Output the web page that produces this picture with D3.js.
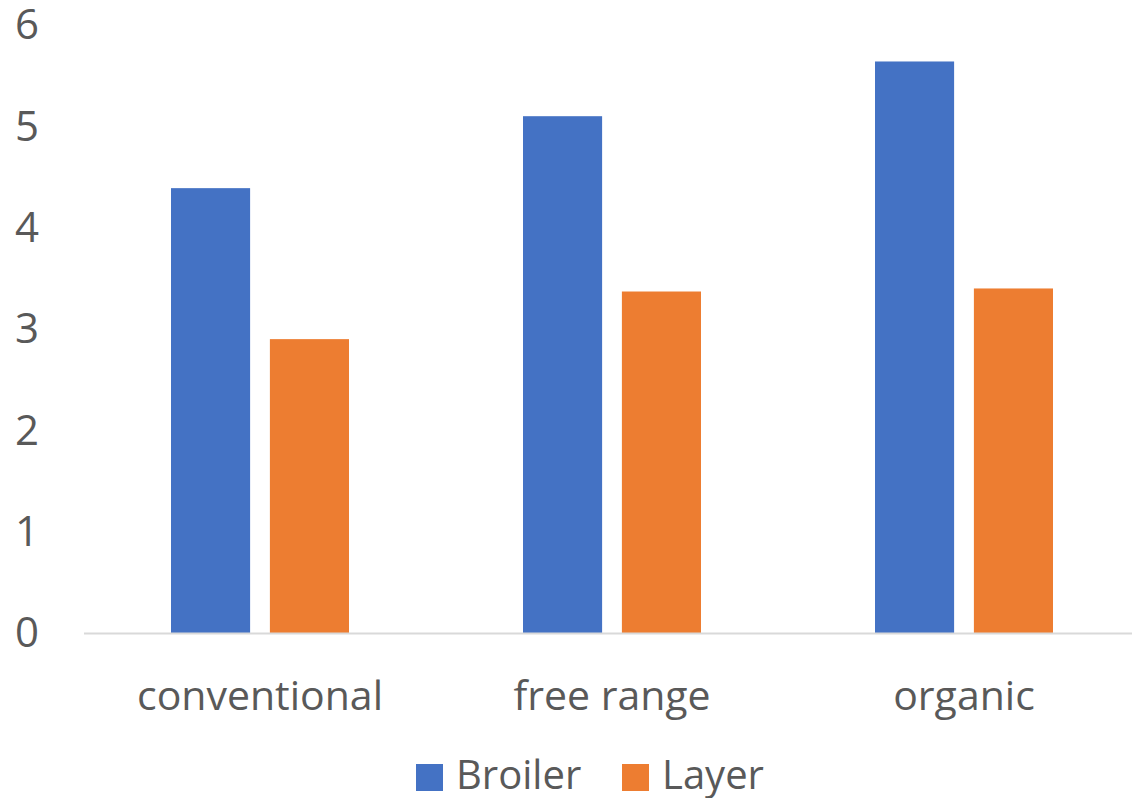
<!DOCTYPE html>
<html>
<head>
<meta charset="utf-8">
<script src="https://cdn.jsdelivr.net/npm/d3@7"></script>
<style>
  body { margin: 0; background: #fff; }
  text { font-family: "Open Sans", "Noto Sans", sans-serif; fill: #595959; }
</style>
</head>
<body>
<script>
// chart data
const categories = ["conventional", "free range", "organic"];
const seriesNames = ["Broiler", "Layer"];
const broiler = [4.39, 5.10, 5.64];
const layer = [2.90, 3.37, 3.40];
const yTicks = [0, 1, 2, 3, 4, 5, 6];
const colors = ["#4472c4", "#ed7d31"];

let svg = null;
let x, xInner, y = null;

const W = 1132, H = 798;
const plot = {left: 84, right: 1140, top: 25, bottom: 633};

appendSvg("body");
setupScales();
appendYAxis();
appendXAxis();
appendBars();
appendLegend();

function appendSvg(el) {
  svg = d3.select(el).append("svg")
    .attr("width", W)
    .attr("height", H);
}

function setupScales() {
  x = d3.scaleBand()
    .domain(categories)
    .range([plot.left, plot.right])
    .paddingInner(0)
    .paddingOuter(0);
  // two bars per group, gap between them
  xInner = d3.scaleBand()
    .domain(seriesNames)
    .range([87, x.bandwidth() - 87])
    .paddingInner(0.2);
  y = d3.scaleLinear()
    .domain([0, 6])
    .range([plot.bottom, plot.top]);
}

function appendYAxis() {
  const ax = svg.append("g")
    .attr("transform", "translate(39,0)")
    .call(d3.axisLeft(y).tickValues(yTicks).tickSize(0).tickPadding(0).tickFormat(d3.format("d")));
  ax.select(".domain").remove();
  ax.selectAll("text")
    .attr("font-size", 42)
    .attr("dy", "0.33em")
    .style("font-family", "'Open Sans', sans-serif")
    .attr("fill", "#595959");
}

function appendXAxis() {
  const ax = svg.append("g")
    .attr("transform", `translate(0, ${plot.bottom})`)
    .call(d3.axisBottom(x).tickSize(0).tickPadding(0));
  ax.select(".domain").remove();
  ax.selectAll("text")
    .attr("font-size", 41)
    .attr("y", 77)
    .attr("dy", 0)
    .style("font-family", "'Open Sans', sans-serif")
    .attr("fill", "#595959");
}

function appendBars() {
  const rows = categories.map((c, i) => ({cat: c, vals: [broiler[i], layer[i]]}));
  const groups = svg.selectAll(".grp")
    .data(rows)
    .enter()
    .append("g")
    .attr("class", "grp")
    .attr("transform", d => `translate(${x(d.cat)},0)`);

  groups.selectAll("rect")
    .data(d => d.vals.map((v, j) => ({name: seriesNames[j], v: v, c: colors[j]})))
    .enter()
    .append("rect")
    .attr("x", d => xInner(d.name))
    .attr("y", d => y(d.v))
    .attr("width", xInner.bandwidth())
    .attr("height", d => y(0) - y(d.v))
    .style("fill", d => d.c);

  // category axis line
  svg.append("line")
    .attr("x1", plot.left)
    .attr("x2", W)
    .attr("y1", y(0) + 0.5)
    .attr("y2", y(0) + 0.5)
    .style("stroke", "#d9d9d9")
    .style("stroke-width", 2);
}

function appendLegend() {
  const pos = [416, 622];
  const legend = svg.selectAll(".legend")
    .data(seriesNames)
    .enter()
    .append("g")
    .attr("class", "legend")
    .attr("transform", (d, i) => `translate(${pos[i]}, 764)`);
  legend.append("rect")
    .attr("width", 27)
    .attr("height", 27)
    .style("fill", (d, i) => colors[i]);
  legend.append("text")
    .attr("x", 40)
    .attr("y", 25)
    .attr("font-size", 40)
    .text(d => d);
}
</script>
</body>
</html>
